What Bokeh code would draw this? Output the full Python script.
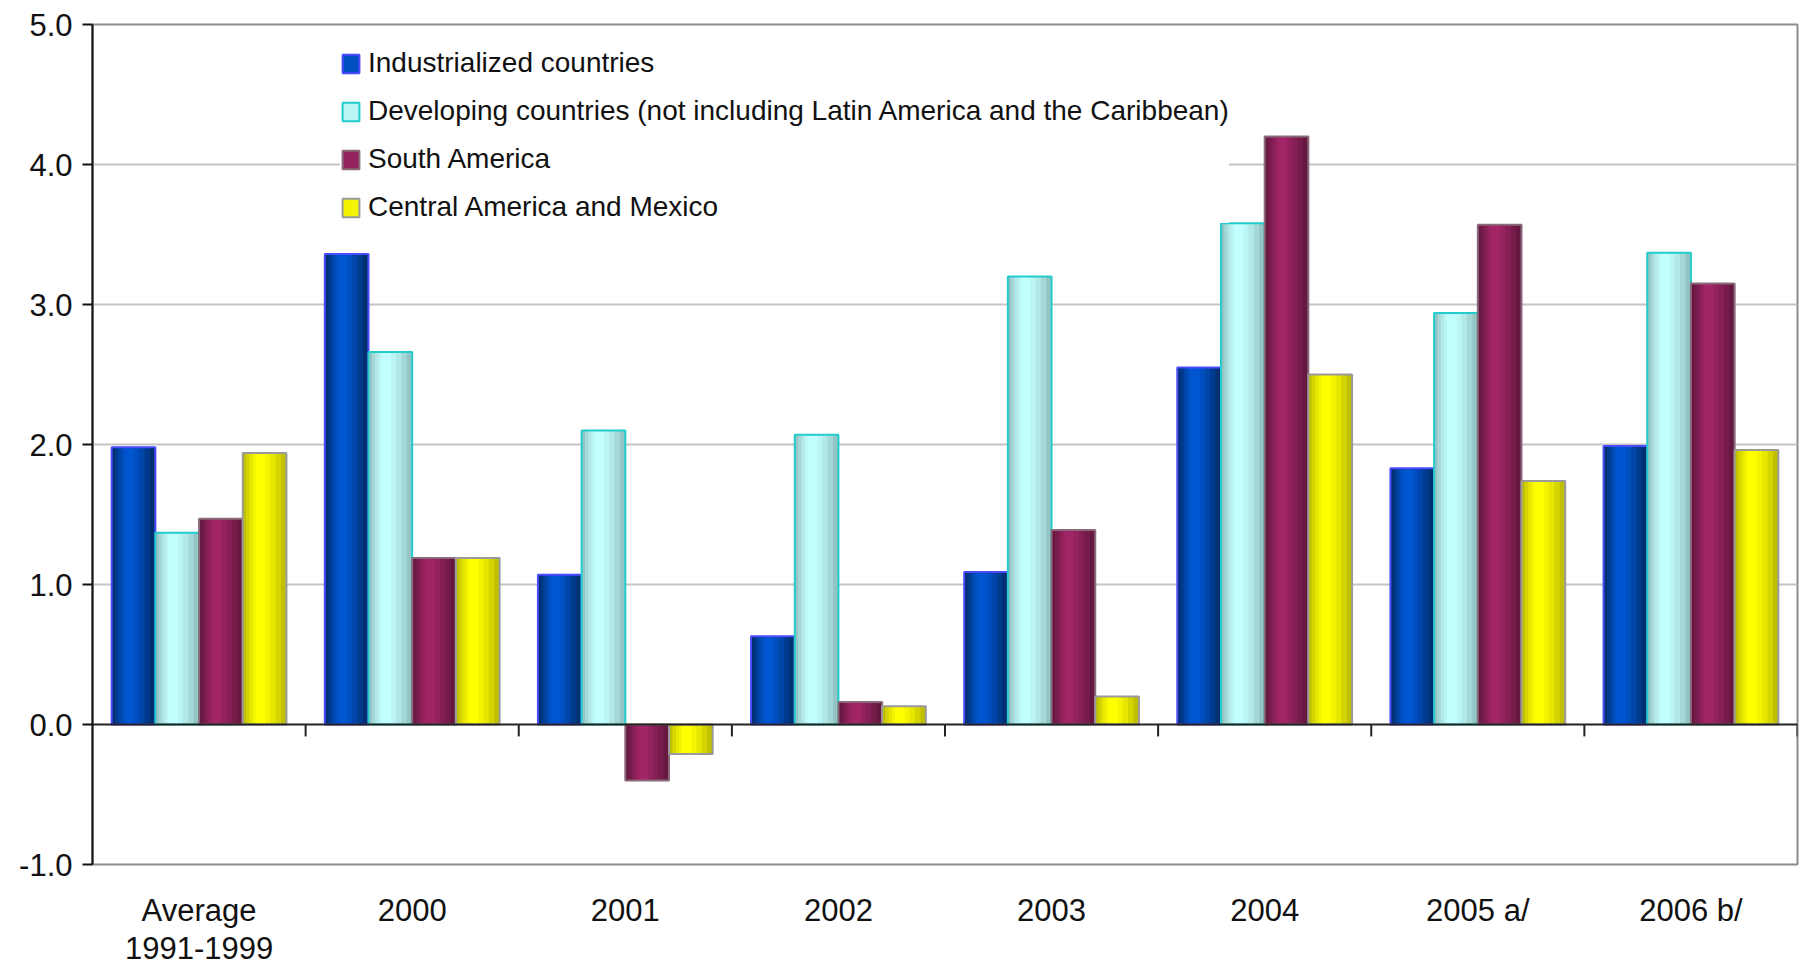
from bokeh.plotting import figure
from bokeh.models import (ColumnDataSource, FactorRange, Range1d, Span, Legend,
                          LegendItem, NumeralTickFormatter, FixedTicker)
from bokeh.transform import dodge
from bokeh.embed import file_html
from bokeh.resources import INLINE

# ---------------- data ----------------
categories = ["Average\n1991-1999", "2000", "2001", "2002", "2003", "2004", "2005 a/", "2006 b/"]
industrialized = [1.98, 3.36, 1.07, 0.63, 1.09, 2.55, 1.83, 1.99]
developing = [1.37, 2.66, 2.10, 2.07, 3.20, 3.58, 2.94, 3.37]
south_america = [1.47, 1.19, -0.40, 0.16, 1.39, 4.20, 3.57, 3.15]
central_america_mexico = [1.94, 1.19, -0.21, 0.13, 0.20, 2.50, 1.74, 1.96]
series_names = ["Industrialized countries",
                "Developing countries (not including Latin America and the Caribbean)",
                "South America",
                "Central America and Mexico"]
y_ticks = [-1.0, 0.0, 1.0, 2.0, 3.0, 4.0, 5.0]

FONT = "Liberation Sans"

src = ColumnDataSource(dict(cat=categories, ind=industrialized, dev=developing,
                            sa=south_america, cam=central_america_mexico))

p = figure(x_range=FactorRange(factors=categories), y_range=Range1d(-1, 5),
           width=1800, height=969, output_backend="svg", toolbar_location=None,
           min_border_left=92, min_border_right=3, min_border_top=24, min_border_bottom=105)
p.background_fill_color = "white"
p.border_fill_color = "white"
p.outline_line_color = "#8c8c8c"
p.outline_line_width = 2

# grid
p.xgrid.grid_line_color = None
p.ygrid.ticker = FixedTicker(ticks=[1, 2, 3, 4])
p.ygrid.grid_line_color = "#c4c4c4"
p.ygrid.grid_line_width = 2

# y axis
p.yaxis.ticker = FixedTicker(ticks=y_ticks)
p.yaxis.formatter = NumeralTickFormatter(format="0.0")
p.yaxis.axis_line_color = "#111111"
p.yaxis.axis_line_width = 2
p.yaxis.major_tick_line_color = "#111111"
p.yaxis.major_tick_line_width = 2
p.yaxis.major_tick_out = 10
p.yaxis.major_tick_in = 0
p.yaxis.minor_tick_line_color = None
p.yaxis.major_label_text_font = FONT
p.yaxis.major_label_text_font_size = "31px"
p.yaxis.major_label_text_color = "#111111"
p.yaxis.major_label_standoff = 10

# x axis (labels only)
p.xaxis.axis_line_color = None
p.xaxis.major_tick_line_color = None
p.xaxis.minor_tick_line_color = None
p.xaxis.major_label_text_font = FONT
p.xaxis.major_label_text_font_size = "31px"
p.xaxis.major_label_text_color = "#111111"
p.xaxis.major_label_text_line_height = 1.1
p.xaxis.major_label_standoff = 22

# bars
bw = 0.205
offsets = [-1.5 * bw, -0.5 * bw, 0.5 * bw, 1.5 * bw]
keys = ["ind", "dev", "sa", "cam"]
layer_colors = [
    ["#00306f", "#003a8c", "#0045a8", "#004fc0", "#0056d0"],
    ["#94c4c4", "#a4d8d8", "#b2e8e8", "#bbf5f5", "#c2ffff"],
    ["#661840", "#761c4b", "#861f56", "#94225f", "#a02466"],
    ["#c0c000", "#d4d400", "#e6e600", "#f4f400", "#ffff00"],
]
outline_colors = ["#4a4aff", "#22cccc", "#8a6a7a", "#9a9a9a"]
fracs = [1.0, 0.8, 0.6, 0.4, 0.22]

legend_items = []
for key, off, cols, oc, name in zip(keys, offsets, layer_colors, outline_colors, series_names):
    layers = []
    for frac, col in zip(fracs, cols):
        shift = -0.12 * bw * (1 - frac)
        r = p.vbar(x=dodge("cat", off + shift, range=p.x_range), top=key, bottom=0,
                   width=bw * frac, source=src, fill_color=col, line_color=None)
        layers.append(r)
    ro = p.vbar(x=dodge("cat", off, range=p.x_range), top=key, bottom=0, width=bw,
                source=src, fill_color=None, line_color=oc, line_width=2)
    legend_items.append(LegendItem(label=name, renderers=[layers[3], ro]))

# zero line and category boundary ticks
p.add_layout(Span(location=0, dimension="width", line_color="#222222", line_width=2))
tick_src = ColumnDataSource(dict(cat=categories, y0=[0.0] * len(categories),
                                 y1=[-0.085] * len(categories)))
p.segment(x0=dodge("cat", 0.5, range=p.x_range), x1=dodge("cat", 0.5, range=p.x_range),
          y0="y0", y1="y1", source=tick_src, line_color="#222222", line_width=2)

legend = Legend(items=legend_items, location=(248, 641))
legend.border_line_color = None
legend.background_fill_color = "white"
legend.background_fill_alpha = 1.0
legend.label_text_font = FONT
legend.label_text_font_size = "28px"
legend.label_text_color = "#111111"
legend.glyph_width = 21
legend.glyph_height = 23
legend.label_height = 20
legend.label_standoff = 7
legend.spacing = 16
legend.padding = 10
legend.margin = 0
p.add_layout(legend)

open("out.html", "w").write(file_html(p, INLINE))
